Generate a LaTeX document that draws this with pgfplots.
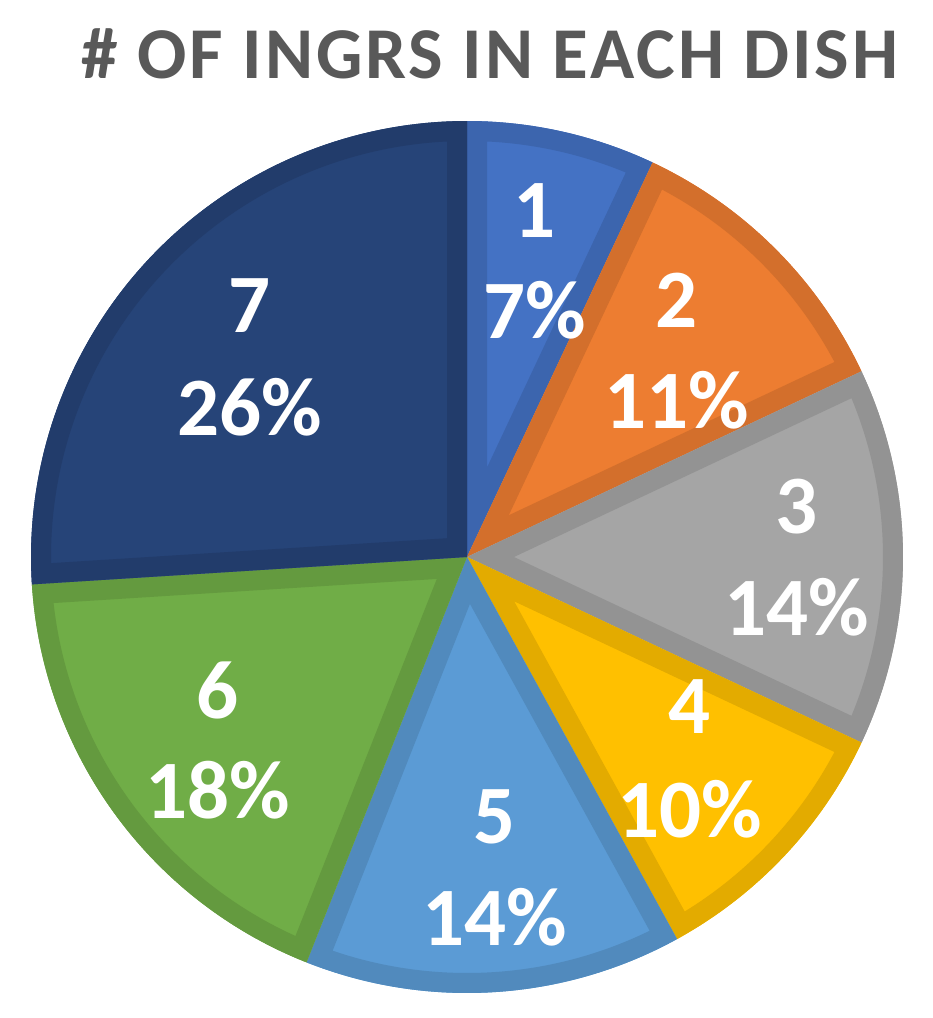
\documentclass[border=0pt]{standalone}
\usepackage{pgfplots}
\pgfplotsset{compat=1.18}
\usepackage{fontspec}
\setmainfont{Carlito}
\newfontfamily\titlefont[LetterSpace=4]{Carlito}
\definecolor{s1}{HTML}{4472C4}
\definecolor{s2}{HTML}{ED7D31}
\definecolor{s3}{HTML}{A5A5A5}
\definecolor{s4}{HTML}{FFC000}
\definecolor{s5}{HTML}{5B9BD5}
\definecolor{s6}{HTML}{70AD47}
\definecolor{s7}{HTML}{264478}
\definecolor{titlegray}{HTML}{595959}
% cumulative percentages -> sector
\newcommand{\sector}[3]{%
  \pgfplotsextra{%
    \fill[#3] (axis cs:467,557) -- ++({90-3.6*#1}:436pt) arc[start angle={90-3.6*#1}, end angle={90-3.6*#2}, radius=436pt] -- cycle;
    \begin{scope}
      \clip (axis cs:467,557) -- ++({90-3.6*#1}:436pt) arc[start angle={90-3.6*#1}, end angle={90-3.6*#2}, radius=436pt] -- cycle;
      \draw[#3!89!black, line width=40pt, line join=miter] (axis cs:467,557) -- ++({90-3.6*#1}:436pt) arc[start angle={90-3.6*#1}, end angle={90-3.6*#2}, radius=436pt] -- cycle;
    \end{scope}}}
\newcommand{\lab}[5]{% x, baseline1, baseline2, line1, line2
  \node[anchor=base, text=white, font=\fontsize{83}{83}\selectfont\bfseries] at (axis cs:#1,#2) {#4};
  \node[anchor=base, text=white, font=\fontsize{83}{83}\selectfont\bfseries] at (axis cs:#1,#3) {#5};}
\begin{document}
\begin{tikzpicture}
\begin{axis}[width=933pt, height=1018pt, scale only axis,
  xmin=0, xmax=933, ymin=0, ymax=1018, y dir=reverse,
  hide axis, clip=false]
\path (rel axis cs:0,0) rectangle (rel axis cs:1,1);
% values: 7, 11, 14, 10, 14, 18, 26 (cumulative 0,7,18,32,42,56,74,100)
\sector{0}{7}{s1}
\sector{7}{18}{s2}
\sector{18}{32}{s3}
\sector{32}{42}{s4}
\sector{42}{56}{s5}
\sector{56}{74}{s6}
\sector{74}{100}{s7}
\lab{535}{237}{338}{1}{7\%}
\lab{677}{327}{428}{2}{11\%}
\lab{797}{533}{635}{3}{14\%}
\lab{690}{733}{837}{4}{10\%}
\lab{495}{843}{945}{5}{14\%}
\lab{218}{718}{818}{6}{18\%}
\lab{250}{332}{435}{7}{26\%}
\node[anchor=base, text=titlegray, font=\fontsize{73}{73}\selectfont\titlefont\bfseries] at (axis cs:490,78) {\# OF INGRS IN EACH DISH};
\end{axis}
\end{tikzpicture}
\end{document}
